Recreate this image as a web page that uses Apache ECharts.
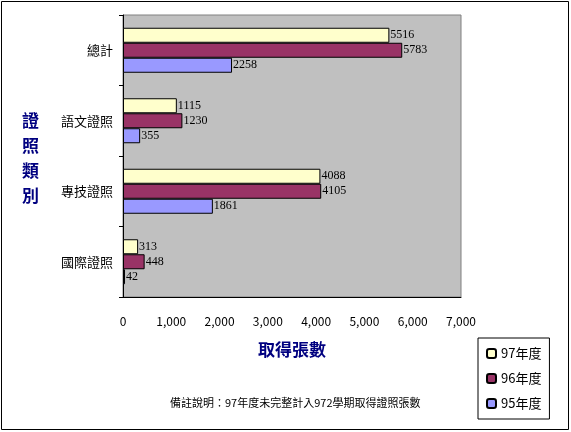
<!DOCTYPE html><html><head><meta charset="utf-8">
<script src="https://cdn.jsdelivr.net/npm/echarts@6/dist/echarts.min.js"></script>
<style>html,body{margin:0;padding:0;background:#fff}#c{width:571px;height:432px}</style></head><body><div id="c"></div>
<script>
const categories=['總計','語文證照','專技證照','國際證照'];
const s97=[5516,1115,4088,313];
const s96=[5783,1230,4105,448];
const s95=[2258,355,1861,42];
const names=['97年度','96年度','95年度'];
const colors=['#FFFFCC','#993366','#9999FF'];
const font='"Noto Sans CJK TC", sans-serif';
const mk=(n,d,c)=>({name:n,type:'bar',data:d,barWidth:15,barGap:'0%',
 itemStyle:{color:c,borderColor:'#000',borderWidth:1},
 label:{show:true,position:'right',distance:1,color:'#000',fontSize:12,fontFamily:'"Liberation Serif", serif'}});
const ch=echarts.init(document.getElementById('c'));
ch.setOption({animation:false,
 grid:{left:123,right:110,top:15,bottom:135,show:true,backgroundColor:'#C0C0C0',borderColor:'#808080',borderWidth:1},
 xAxis:{type:'value',min:0,max:7000,interval:1000,splitLine:{show:false},
  axisLine:{show:true,lineStyle:{color:'#000'}},axisTick:{show:false},
  axisLabel:{color:'#000',fontSize:12,margin:18,fontFamily:font},
  name:'取得張數',nameLocation:'middle',nameGap:44,nameTextStyle:{color:'#000080',fontSize:17,fontWeight:'bold',fontFamily:font}},
 yAxis:{type:'category',data:categories,inverse:true,
  axisLine:{show:true,lineStyle:{color:'#000'}},axisTick:{show:true,inside:false,length:4,lineStyle:{color:'#000'}},
  axisLabel:{color:'#000',fontSize:13,margin:10,fontFamily:font}},
 legend:{orient:'vertical',left:478,top:338,width:82,padding:[9,8,9,8],itemGap:12,
  borderColor:'#000',borderWidth:1,itemWidth:9,itemHeight:9,
  textStyle:{fontSize:13,color:'#000',fontFamily:font},data:names},
 graphic:[
  {type:'rect',shape:{x:1.5,y:1.5,width:567,height:428},style:{fill:'none',stroke:'#000',lineWidth:1}},
  {type:'text',left:22,top:108,style:{text:'證\n照\n類\n別',fontSize:17,fontWeight:'bold',fill:'#000080',lineHeight:25,fontFamily:font}},
  {type:'text',left:170,top:397,style:{text:'備註說明：97年度未完整計入972學期取得證照張數',fontSize:11,fill:'#000',fontFamily:font}}
 ],
 series:[mk(names[0],s97,colors[0]),mk(names[1],s96,colors[1]),mk(names[2],s95,colors[2])]
});
</script></body></html>
